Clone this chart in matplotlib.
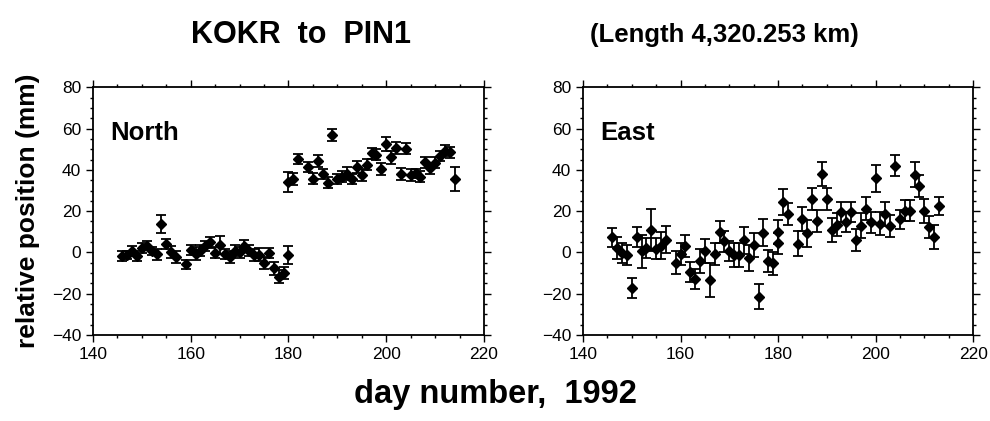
import matplotlib.pyplot as plt
from matplotlib.ticker import MultipleLocator

# North component (mm)
north_day = [146, 147, 148, 149, 150, 151, 152, 153, 154, 155, 156, 157, 159, 160,
             161, 162, 163, 164, 165, 166, 167, 168, 169, 170, 171, 172, 173, 174,
             175, 176, 177, 178, 179, 180,
             180, 181, 182, 184, 185, 186, 187, 188, 189, 190, 191, 192, 193, 194,
             195, 196, 197, 198, 199, 200, 201, 202, 203, 204, 205, 206, 207, 208,
             209, 210, 211, 212, 213, 214]
north_val = [-1.6, -1.3, 0.8, -1.6, 2.0, 3.3, 0.8, -0.8, 13.8, 3.9, 0.2, -2.0, -5.8, 1.2,
             -0.6, 0.8, 3.3, 4.9, -0.1, 3.7, -0.8, -2.0, 0.8, 0.0, 3.3, 0.8, -1.1, -1.1,
             -5.1, -0.3, -7.6, -11.8, -9.8, -1.3,
             34.0, 35.6, 45.1, 41.5, 35.7, 44.4, 38.0, 33.8, 56.7, 35.4, 36.7, 38.1, 35.4, 41.2,
             37.3, 42.5, 48.0, 47.3, 40.4, 52.5, 46.1, 50.4, 38.1, 50.3, 37.3, 38.3, 36.7, 43.6,
             40.7, 43.5, 46.7, 49.3, 48.5, 35.7]
north_err = [2.4, 2.1, 2.3, 2.4, 2.4, 2.1, 2.0, 2.7, 4.5, 2.4, 2.9, 2.9, 2.1, 2.6,
             3.1, 2.6, 2.4, 2.7, 2.6, 4.5, 2.6, 2.9, 2.6, 2.7, 2.7, 2.6, 2.9, 3.2,
             2.7, 2.6, 3.1, 3.2, 2.9, 4.5,
             4.8, 2.7, 2.4, 2.4, 2.6, 2.9, 2.6, 2.6, 2.9, 2.4, 2.6, 3.1, 2.4, 2.9,
             2.9, 2.6, 2.6, 2.7, 2.7, 3.2, 3.2, 2.9, 2.9, 2.6, 2.9, 2.3, 2.6, 2.7,
             2.7, 2.6, 2.6, 2.6, 2.7, 5.8]

# East component (mm)
east_day = [146, 147, 148, 149, 150, 151, 152, 153, 154, 155, 156, 157, 159, 160,
            161, 162, 163, 164, 165, 166, 167, 168, 169, 170, 171, 172, 173, 174,
            175, 176, 177, 178, 179, 180, 180, 181, 182, 184, 185, 186, 187, 188,
            189, 190, 191, 192, 193, 194, 195, 196, 197, 198, 199, 200, 201, 202,
            203, 204, 205, 206, 207, 208, 209, 210, 211, 212, 213]
east_val = [7.3, 2.1, -0.3, -1.3, -17.2, 7.6, 0.5, 2.1, 10.9, 1.8, 3.3, 6.2, -5.0, -0.8,
            3.1, -9.5, -12.7, -4.3, 0.5, -13.4, -0.8, 9.9, 5.4, 0.6, -1.2, -1.2, 5.9, -2.7,
            3.6, -21.5, 9.5, -4.1, -5.3, 9.9, 4.4, 24.3, 18.6, 4.3, 16.1, 9.2, 25.8, 15.3,
            38.0, 25.8, 10.9, 13.5, 19.4, 14.8, 19.4, 6.2, 12.9, 21.2, 14.6, 35.9, 14.0, 18.6,
            12.6, 42.0, 16.0, 20.3, 20.3, 37.6, 32.2, 20.3, 12.3, 7.4, 22.5]
east_err = [4.7, 5.5, 4.8, 4.8, 5.0, 4.8, 7.9, 4.7, 10.0, 5.0, 6.6, 6.6, 5.6, 5.2,
            5.2, 5.0, 4.8, 5.8, 5.8, 8.4, 5.2, 5.2, 5.0, 4.8, 6.0, 6.0, 6.6, 6.1,
            5.6, 6.1, 6.6, 5.3, 5.6, 6.0, 5.0, 6.3, 5.5, 6.0, 5.7, 6.5, 5.2, 5.2,
            6.0, 5.2, 5.7, 5.7, 4.8, 4.8, 4.8, 5.3, 6.0, 5.5, 5.2, 6.5, 5.7, 5.8,
            5.3, 5.2, 4.8, 5.0, 5.0, 6.1, 5.2, 5.8, 5.2, 5.8, 4.5]

FONTS = ["Liberation Sans Narrow", "Liberation Sans", "DejaVu Sans"]


def draw_panel(ax, day, val, err, label):
    ax.errorbar(day, val, yerr=err, fmt="D", color="black", ms=4.8,
                ecolor="black", elinewidth=1.3, capsize=3.5, capthick=1.3)
    ax.set_xlim(140, 220)
    ax.set_ylim(-40, 80)
    ax.xaxis.set_major_locator(MultipleLocator(20))
    ax.xaxis.set_minor_locator(MultipleLocator(5))
    ax.yaxis.set_major_locator(MultipleLocator(20))
    ax.yaxis.set_minor_locator(MultipleLocator(5))
    ax.tick_params(which="both", direction="out", top=True, right=True,
                   labeltop=False, labelright=False, width=1.0)
    ax.tick_params(which="major", length=5, labelsize=12.5)
    ax.tick_params(which="minor", length=2.5)
    for lab in ax.get_xticklabels() + ax.get_yticklabels():
        lab.set_family(FONTS)
    for s in ax.spines.values():
        s.set_linewidth(1.3)
    ax.text(0.045, 0.815, label, transform=ax.transAxes, fontsize=18.5,
            fontweight="bold", family=FONTS, ha="left", va="center")


def main():
    plt.rcParams["font.family"] = FONTS
    fig = plt.figure(figsize=(9.9, 4.21), dpi=100)
    ax1 = fig.add_axes([0.0939, 0.2043, 0.395, 0.5883])
    ax2 = fig.add_axes([0.5889, 0.2043, 0.394, 0.5883])

    draw_panel(ax1, north_day, north_val, north_err, "North")
    draw_panel(ax2, east_day, east_val, east_err, "East")

    fig.text(0.304, 0.918, "KOKR  to  PIN1", fontsize=22, fontweight="bold",
             ha="center", va="center")
    fig.text(0.732, 0.918, "(Length 4,320.253 km)", fontsize=18.5, fontweight="bold",
             ha="center", va="center")
    fig.text(0.028, 0.5, "relative position (mm)", fontsize=19, fontweight="bold",
             rotation=90, ha="center", va="center")
    fig.text(0.5, 0.062, "day number,  1992", fontsize=23.5, fontweight="bold",
             ha="center", va="center")

    fig.savefig("out.png", dpi=100)
    plt.close(fig)


if __name__ == "__main__":
    main()
